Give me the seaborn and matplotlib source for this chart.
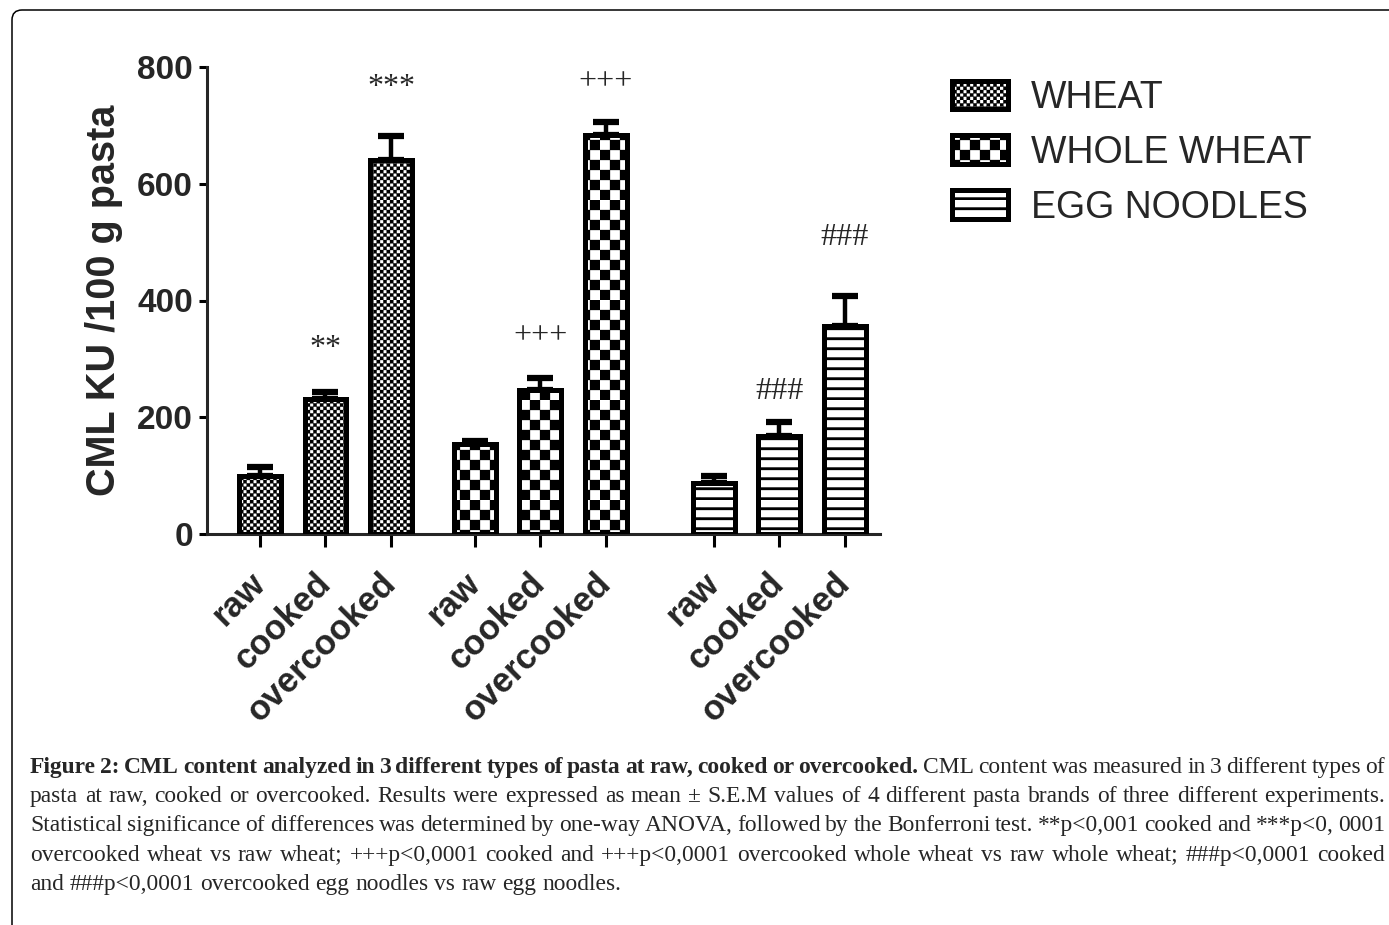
import numpy as np
import pandas as pd
import matplotlib
matplotlib.use("Agg")
import matplotlib.pyplot as plt
import matplotlib.hatch as mhatch
from matplotlib.path import Path
from matplotlib.patches import FancyBboxPatch
from matplotlib.transforms import IdentityTransform
import seaborn as sns

# ---------------- data ----------------
pasta_types = ["WHEAT", "WHOLE WHEAT", "EGG NOODLES"]
conditions = ["raw", "cooked", "overcooked"]
wheat_mean = [99, 231, 640]
wheat_sem = [15, 12, 42]
whole_wheat_mean = [155, 247, 684]
whole_wheat_sem = [5, 20, 22]
egg_mean = [88, 168, 356]
egg_sem = [11, 24, 51]
signif_labels = [["", "**", "***"], ["", "+++", "+++"], ["", "###", "###"]]

# ---------------- layout / style ----------------
group_starts = [0.0, 3.28, 6.93]
label_gap_px = [[0, 44, 48], [0, 42, 40], [0, 30, 59]]
hatches = ["O" * 15, "O" * 5, "o" * 10]   # fine checker, coarse checker, stripes


# custom filled hatch patterns (checkerboard and horizontal stripes)
class CheckerHatch(mhatch.HatchPatternBase):
    def __init__(self, hatch, density):
        self.n = 2 * hatch.count("O")
        self.num_vertices = (self.n * self.n // 2) * 5 if self.n else 0

    def set_vertices_and_codes(self, vertices, codes):
        n = self.n
        s = 1.0 / n
        parts = []
        for i in range(n):
            for j in range(n):
                if (i + j) % 2 == 0:
                    x0, y0 = i * s, j * s
                    parts.append([[x0, y0], [x0 + s, y0], [x0 + s, y0 + s],
                                  [x0, y0 + s], [x0, y0]])
        vertices[:] = np.concatenate(parts)
        c = [Path.MOVETO, Path.LINETO, Path.LINETO, Path.LINETO, Path.CLOSEPOLY]
        codes[:] = np.tile(c, len(parts))


class StripeHatch(mhatch.HatchPatternBase):
    def __init__(self, hatch, density):
        self.n = hatch.count("o")
        self.num_vertices = self.n * 5

    def set_vertices_and_codes(self, vertices, codes):
        n = self.n
        s = 1.0 / n
        t = 0.26 * s
        parts = []
        for j in range(n):
            y0 = j * s
            parts.append([[0, y0], [1, y0], [1, y0 + t], [0, y0 + t], [0, y0]])
        vertices[:] = np.concatenate(parts)
        c = [Path.MOVETO, Path.LINETO, Path.LINETO, Path.LINETO, Path.CLOSEPOLY]
        codes[:] = np.tile(c, len(parts))


new_types = []
for t in mhatch._hatch_types:
    if t is mhatch.LargeCircles:
        new_types.append(CheckerHatch)
    elif t is mhatch.SmallCircles:
        new_types.append(StripeHatch)
    else:
        new_types.append(t)
mhatch._hatch_types = new_types

sns.set_style("ticks")
plt.rcParams["font.family"] = ["Liberation Sans", "DejaVu Sans"]
plt.rcParams["hatch.linewidth"] = 0.2
plt.rcParams["hatch.color"] = "black"

W, H = 1389, 925
fig = plt.figure(figsize=(W / 100, H / 100), dpi=100)
ax = fig.add_axes([207 / W, (H - 534) / H, (880 - 207) / W, (534 - 67) / H])

means = [wheat_mean, whole_wheat_mean, egg_mean]
sems = [wheat_sem, whole_wheat_sem, egg_sem]
rows = []
for g, ptype in enumerate(pasta_types):
    for i, cond in enumerate(conditions):
        rows.append({"type": ptype, "condition": cond,
                     "pos": group_starts[g] + i,
                     "value": means[g][i], "sem": sems[g][i],
                     "label": signif_labels[g][i], "gap": label_gap_px[g][i],
                     "g": g})
df = pd.DataFrame(rows)

sns.barplot(data=df, x="pos", y="value", hue="type", hue_order=pasta_types,
            palette={t: "white" for t in pasta_types}, saturation=1,
            native_scale=True, width=0.64, edgecolor="black", linewidth=3.6,
            errorbar=None, legend=False, ax=ax, zorder=3)

# hatch the bars by pasta type
positions = df["pos"].to_numpy()
handles = [None, None, None]
for p in ax.patches:
    cx = p.get_x() + p.get_width() / 2
    k = int(np.argmin(np.abs(positions - cx)))
    g = int(df["g"].iloc[k])
    p.set_hatch(hatches[g])
    try:
        p.set_hatch_linewidth(0.2)
    except Exception:
        pass
    if handles[g] is None:
        handles[g] = p

# error bars (upper only)
eb = ax.errorbar(df["pos"], df["value"], yerr=[np.zeros(len(df)), df["sem"]],
                 fmt="none", ecolor="black", elinewidth=3.2, capsize=9.5,
                 capthick=4.5, zorder=2)

# significance labels
for _, r in df.iterrows():
    if r["label"]:
        ax.annotate(r["label"], xy=(r["pos"], r["value"] + r["sem"]),
                    xytext=(0, r["gap"] * 0.72), textcoords="offset points",
                    ha="center", va="center", fontsize=23,
                    family=["Liberation Serif", "DejaVu Serif"])

ax.set_ylim(0, 800)
ax.set_xlim(-0.81, 9.47)
ax.set_yticks([0, 200, 400, 600, 800])
ax.set_yticklabels(["0", "200", "400", "600", "800"], fontsize=24,
                   fontweight="bold")
ax.set_xticks(positions)
ax.set_xticklabels(list(df["condition"]), fontsize=25, fontweight="bold",
                   rotation=45, ha="right", va="center",
                   rotation_mode="anchor")
ax.set_xlabel("")
ax.set_ylabel("CML KU /100 g pasta", fontsize=28.5, fontweight="bold",
              labelpad=10)
sns.despine(ax=ax)
for s in ["left", "bottom"]:
    ax.spines[s].set_linewidth(2.2)
ax.tick_params(axis="y", length=6, width=2.2, pad=4, color="black")
ax.tick_params(axis="x", length=9, width=2.2, pad=23, color="black")

leg = ax.legend(handles=handles, labels=pasta_types, loc="upper left",
                bbox_to_anchor=(952 / W, (H - 80) / H),
                bbox_transform=fig.transFigure, frameon=False, fontsize=27,
                handlelength=1.5, handleheight=0.8, handletextpad=0.6,
                labelspacing=0.5, borderpad=0, borderaxespad=0)

# ---------------- caption ----------------
caption_lines = [
    [("Figure 2: CML content analyzed in 3 different types of pasta at raw, cooked or overcooked.", "bold"),
     ("CML content was measured in 3 different types of", "normal")],
    [("pasta at raw, cooked or overcooked. Results were expressed as mean \u00b1 S.E.M values of 4 different pasta brands of three different experiments.", "normal")],
    [("Statistical significance of differences was determined by one-way ANOVA, followed by the Bonferroni test. **p<0,001 cooked and ***p<0, 0001", "normal")],
    [("overcooked wheat vs raw wheat; +++p<0,0001 cooked and +++p<0,0001 overcooked whole wheat vs raw whole wheat; ###p<0,0001 cooked", "normal")],
    [("and ###p<0,0001 overcooked egg noodles vs raw egg noodles.", "normal")],
]
cap_font = ["Liberation Serif", "DejaVu Serif"]
cap_size = 16.9
x_left, x_right = 30, 1385
baseline0, pitch = 773, 29.2

renderer = fig.canvas.get_renderer()
for li, segs in enumerate(caption_lines):
    words = []
    for text, weight in segs:
        for w in text.split(" "):
            if w:
                words.append((w, weight))
    arts = []
    widths = []
    for w, weight in words:
        t = fig.text(0, 0, w, fontsize=cap_size, fontweight=weight,
                     family=cap_font, ha="left", va="baseline",
                     transform=IdentityTransform())
        arts.append(t)
        widths.append(t.get_window_extent(renderer).width)
    natural_gap = cap_size * 1.389 * 0.25
    if li < len(caption_lines) - 1:
        gap = (x_right - x_left - sum(widths)) / (len(words) - 1)
    else:
        gap = natural_gap
    x = x_left
    y = H - (baseline0 + li * pitch)
    for t, wdt in zip(arts, widths):
        t.set_position((x, y))
        x += wdt + gap

# frame around the figure (top and left edges visible)
frame = FancyBboxPatch((12, -60), 1500, H - 10 + 60,
                       boxstyle="round,pad=0,rounding_size=10",
                       transform=IdentityTransform(), fill=False,
                       edgecolor="black", linewidth=1.1)
fig.add_artist(frame)

fig.savefig("out.png", dpi=100)
